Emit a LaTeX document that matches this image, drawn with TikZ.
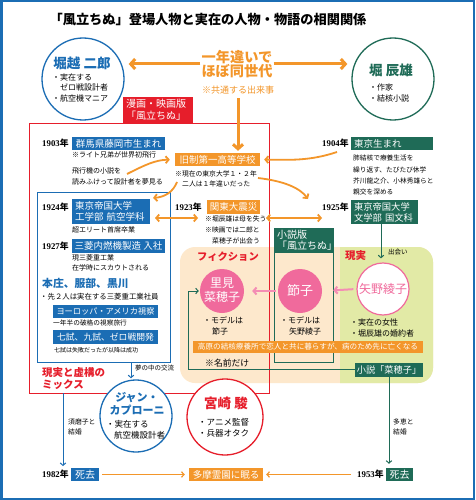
\documentclass[tikz,border=0pt]{standalone}
\usepackage{fontspec}
\newfontfamily\cjk{Noto Sans CJK JP}
\newfontfamily\lserif{Liberation Serif}
\usetikzlibrary{arrows.meta}
\definecolor{jblue}{HTML}{1B6DB4}
\definecolor{jgreen}{HTML}{1F6B57}
\definecolor{jorange}{HTML}{F3962A}
\definecolor{jred}{HTML}{E61E2B}
\definecolor{jpink}{HTML}{F06A9C}
\definecolor{jpinkl}{HTML}{F48DB4}
\definecolor{jpeach}{HTML}{FDE8CC}
\definecolor{jlime}{HTML}{E2EAA6}
\newcommand\fs[1]{\fontsize{#1}{#1}\selectfont}
\newcommand\fsl[2]{\fontsize{#1}{#2}\selectfont}
\newcommand\nen{{\cjk\bfseries 年}}
\begin{document}
\begin{tikzpicture}[x=1pt,y=-1pt,
 txt/.style={anchor=west,inner sep=0pt,font=\cjk\fs{7}},
 yr/.style={anchor=west,inner sep=0pt,font=\lserif\bfseries\fs{8.8}},
 boxb/.style={fill=jblue,text=white,inner sep=0pt,font=\cjk\fs{9.5}},
 boxg/.style={fill=jgreen,text=white,inner sep=0pt,font=\cjk\fs{9.5}},
 boxo/.style={fill=jorange,text=white,inner sep=0pt,font=\cjk\fs{9.5}},
 bigarr/.style={line width=3pt,-{Straight Barb[length=4.5pt,width=10pt]}},
 midarr/.style={line width=1.8pt,-{Straight Barb[length=3pt,width=7pt]}},
 dblarr/.style={line width=1.8pt,{Straight Barb[length=3pt,width=7pt]}-{Straight Barb[length=3pt,width=7pt]}},
 smarr/.style={line width=1pt,-{Straight Barb[length=2.5pt,width=5.5pt]}},
 circ/.style={circle,inner sep=0pt,line width=1.3pt,fill=white},
]
\useasboundingbox (0,0) rectangle (475,500);
\fill[white] (0,0) rectangle (475,500);
\draw[jblue,line width=2.5pt] (1.25,1.25) rectangle (473.75,498.75);

% background regions
\fill[jpeach,rounded corners=15pt] (180,247) rectangle (433,383);
\begin{scope}
\clip (340,240) rectangle (440,390);
\fill[jlime,rounded corners=15pt] (180,247) rectangle (433,383);
\end{scope}
\draw[jgreen,line width=1pt] (274,228) rectangle (333,362);
\node[boxg,text width=53pt,inner xsep=3pt,align=left,minimum height=25pt,font=\cjk\fsl{10}{11}] (shosetsuban) at (303.5,240.5) {小説版\\「風立ちぬ」};

% frames
\draw[jred,line width=1pt] (29,123) rectangle (269,393);
\draw[jblue,line width=1pt] (37,192) rectangle (170,362);

% title
\node[font=\cjk\bfseries\fs{13.2},inner sep=0pt] (title) at (208,20) {「風立ちぬ」登場人物と実在の人物・物語の相関関係};

% top circles
\node[circ,draw=jblue,minimum size=82pt] (jiro) at (83,79) {};
\node[font=\cjk\bfseries\fs{13.5},text=jblue,inner sep=0pt] (jironame) at (82,63) {堀越 二郎};
\node[txt,font=\cjk\fs{8}] (j1) at (52,77) {・実在する};
\node[txt,font=\cjk\fs{8}] (j2) at (60,87.5) {ゼロ戦設計者};
\node[txt,font=\cjk\fs{8}] (j3) at (52,98) {・航空機マニア};

\node[circ,draw=jgreen,minimum size=82pt] (hori) at (393,79) {};
\node[font=\cjk\bfseries\fs{13.5},text=jgreen,inner sep=0pt] (horiname) at (391,70) {堀 辰雄};
\node[txt,font=\cjk\fs{8}] (h1) at (369,87) {・作家};
\node[txt,font=\cjk\fs{8}] (h2) at (369,98) {・結核小説};

% center
\node[font=\cjk\bfseries\fsl{14.2}{14.5},text=jorange,align=center,inner sep=0pt] (gen) at (237,64) {一年違いで\\ほぼ同世代};
\draw[bigarr,jorange,shorten <=1pt,shorten >=4pt] (gen.west) -- (gen.west -| jiro.east);
\draw[bigarr,jorange,shorten <=1pt,shorten >=4pt] (gen.east) -- (gen.east -| hori.west);
\node[font=\cjk\fs{9},text=jorange,inner sep=0pt] (kyotsu) at (238,90) {※共通する出来事};

\node[fill=jred,text=white,font=\cjk\fsl{10}{12},text width=64pt,inner xsep=3pt,align=left,minimum height=26pt,inner ysep=0pt] (manga) at (158,110) {漫画・映画版\\「風立ちぬ」};

% left timeline
\node[yr] (y1903) at (42,143.5) {1903\nen};
\node[boxb,minimum width=93pt,minimum height=13pt] (gunma) at (118.5,143.5) {群馬県藤岡市生まれ};
\node[txt] (n1) at (72,154.5) {※ライト兄弟が世界初飛行};
\node[txt] (n2) at (72,171) {飛行機の小説を};
\node[txt] (n3) at (72,181.5) {読みふけって設計者を夢見る};

\node[boxo,minimum width=85pt,minimum height=13pt] (gakko) at (217.5,159.5) {旧制第一高等学校};
\draw[bigarr,jorange,shorten <=4pt,shorten >=2pt] (kyotsu.south) -- (kyotsu.south |- gakko.north);
\node[txt,font=\cjk\fs{6.8}] (g1) at (175,173.5) {※現在の東京大学１・２年};
\node[txt,font=\cjk\fs{6.8}] (g2) at (182,184) {二人は１年違いだった};

\coordinate (c1s) at (127,174);
\draw[midarr,jorange,shorten >=5pt] (c1s) .. controls (145,165) and (155,160) .. (gakko.west);
\coordinate (c2s) at (177,182);
\coordinate (c2e) at (153,198);
\draw[midarr,jorange] (c2s) .. controls (173,192) and (165,197) .. (c2e);
\coordinate (c3s) at (337,152);
\draw[midarr,jorange,shorten >=4pt] (c3s) .. controls (310,161) and (290,160) .. (gakko.east);
\coordinate (c4s) at (258,178);
\coordinate (c4e) at (308,199);
\draw[midarr,jorange] (c4s) .. controls (284,181) and (300,188) .. (c4e);

\node[yr] (y1924) at (42,207) {1924\nen};
\node[boxb,text width=72pt,inner xsep=3pt,align=left,minimum height=25pt,font=\cjk\fsl{9.5}{11}] (koku) at (111,211.5) {東京帝国大学\\工学部 航空学科};
\node[txt] (k1) at (72,229.5) {超エリート首席卒業};
\node[yr] (y1927) at (42,246) {1927\nen};
\node[boxb,minimum width=93pt,minimum height=14pt] (mitsu) at (118.5,246) {三菱内燃機製造 入社};
\node[txt] (m1) at (72,257.5) {現三菱重工業};
\node[txt] (m2) at (72,268) {在学時にスカウトされる};
\node[txt,font=\cjk\bfseries\fs{10.8},text=jblue] (honjo) at (42,283) {本庄、服部、黒川};
\node[txt,font=\cjk\fs{7.4}] (hj1) at (40,296.5) {・先２人は実在する三菱重工業社員};
\node[boxb,minimum width=105pt,minimum height=13pt,font=\cjk\fs{8.2}] (europe) at (105.5,311.5) {ヨーロッパ・アメリカ視察};
\node[txt,font=\cjk\fs{6.7}] (e1) at (53,322.5) {一年半の破格の視察旅行};
\node[boxb,minimum width=105pt,minimum height=14pt,font=\cjk\fs{8.8}] (zero) at (105.5,337) {七試、九試、ゼロ戦開発};
\node[txt,font=\cjk\fs{6}] (z1) at (54,350) {七試は失敗だったが以降は成功};

\node[yr] (y1923) at (175,207) {1923\nen};
\node[boxo,minimum width=53pt,minimum height=14pt] (shinsai) at (233.5,207) {関東大震災};
\node[txt,font=\cjk\fs{6.8}] (s1) at (205,218.5) {※堀辰雄は母を失う};
\node[txt,font=\cjk\fs{6.8}] (s2) at (205,230) {※映画では二郎と};
\node[txt,font=\cjk\fs{6.8}] (s3) at (212,241) {菜穂子が出会う};
\coordinate (d1a) at (155,218);
\coordinate (d1b) at (198,218);
\coordinate (d2a) at (266,218);
\coordinate (d2b) at (322,218);
\draw[dblarr,jorange] (d1a) -- (d1b);
\draw[dblarr,jorange] (d2a) -- (d2b);

% right timeline
\node[yr] (y1904) at (322,143.5) {1904\nen};
\node[boxg,text width=76pt,inner xsep=3pt,align=left,minimum height=13pt] (tokyo) at (392,143.5) {東京生まれ};
\node[txt,font=\cjk\fs{6.7}] (t1) at (353,158) {肺結核で療養生活を};
\node[txt,font=\cjk\fs{6.7}] (t2) at (353,169.5) {繰り返す、たびたび休学};
\node[txt,font=\cjk\fs{6.7}] (t3) at (353,181) {芥川龍之介、小林秀雄らと};
\node[txt,font=\cjk\fs{6.7}] (t4) at (353,192) {親交を深める};
\node[yr] (y1925) at (322,207) {1925\nen};
\node[boxg,text width=61pt,inner xsep=3pt,align=left,minimum height=24pt,font=\cjk\fsl{9.3}{11}] (bungaku) at (384.5,212) {東京帝国大学\\文学部 国文科};

% fiction / reality
\node[txt,font=\cjk\bfseries\fs{10.3},text=jred] (fiction) at (197,257) {フィクション};
\node[txt,font=\cjk\bfseries\fs{10.5},text=jred] (genjitsu) at (345,256) {現実};
\node[circle,fill=jpink,inner sep=0pt,minimum size=44pt] (satomi) at (222,291) {};
\node[font=\cjk\fsl{12}{14},text=white,align=center,inner sep=0pt] (satomit) at (222,290) {里見\\菜穂子};
\node[circle,fill=jpink,inner sep=0pt,minimum size=44pt,font=\cjk\fs{13},text=white] (setsuko) at (300,291) {節子};
\node[circ,draw=jpink,line width=1.2pt,minimum size=52pt,font=\cjk\fs{12},text=jpink] (yano) at (383,289) {矢野綾子};
\draw[jpinkl,line width=2pt,-{Straight Barb[length=3pt,width=7pt]},shorten <=3pt,shorten >=11pt] (yano.west) -- (setsuko.east);
\draw[jpinkl,line width=2pt,-{Straight Barb[length=3pt,width=7pt]},shorten <=2pt,shorten >=8pt] (setsuko.west) -- (satomi.east);
\coordinate (deai) at (381,224);
\draw[smarr,jgreen,shorten >=4pt] (deai) -- (deai |- yano.north);
\node[txt,font=\cjk\fs{6.5}] (deait) at (388,252) {出会い};

\node[txt,font=\cjk\fs{8}] (sa1) at (203,320) {・モデルは};
\node[txt,font=\cjk\fs{8}] (sa2) at (212,331) {節子};
\node[txt,font=\cjk\fs{8}] (se1) at (280,320) {・モデルは};
\node[txt,font=\cjk\fs{8}] (se2) at (289,331) {矢野綾子};
\node[txt,font=\cjk\fs{8}] (ya1) at (350,322) {・実在の女性};
\node[txt,font=\cjk\fs{8}] (ya2) at (350,333) {・堀辰雄の婚約者};
\node[fill=jorange,text=white,font=\cjk\fs{7.6},minimum width=230pt,minimum height=12pt,inner sep=0pt] (banner) at (308,347) {高原の結核療養所で恋人と共に暮らすが、病のため先に亡くなる};
\node[txt,font=\cjk\fs{8.8}] (namae) at (205,363) {※名前だけ};

\node[boxg,minimum width=68pt,minimum height=14pt,font=\cjk\fs{9.2}] (nahoko) at (389,369.5) {小説「菜穂子」};
\coordinate (gc) at (188,369.5);
\draw[smarr,jgreen,shorten >=1pt] (nahoko.west) -- (gc) |- (satomi.west);

% mix label
\node[txt,font=\cjk\bfseries\fsl{10.5}{12},text=jred,align=left] (mix) at (42,378.5) {現実と虚構の\\ミックス};

% lower circles
\coordinate (bfb) at (131,362);
\node[circ,draw=jblue,minimum size=72pt] (jan) at (136,416) {};
\draw[smarr,jblue,shorten >=1pt] (bfb) -- (bfb |- jan.north);
\node[txt,font=\cjk\fs{6.5}] (yume) at (135,368.5) {夢の中の交流};
\node[font=\cjk\bfseries\fsl{11}{13},text=jblue,align=center,inner sep=0pt] (jant) at (137,403.5) {ジャン・\\カプローニ};
\node[txt,font=\cjk\fs{8.5}] (ja1) at (106,424) {・実在する};
\node[txt,font=\cjk\fs{8.5}] (ja2) at (114,435) {航空機設計者};

\node[circ,draw=jred,minimum size=76pt] (miya) at (225,417) {};
\node[font=\cjk\bfseries\fs{13.5},text=jred,inner sep=0pt] (miyat) at (226,403) {宮崎 駿};
\node[txt,font=\cjk\fs{8.5}] (mi1) at (198,422) {・アニメ監督};
\node[txt,font=\cjk\fs{8.5}] (mi2) at (198,433) {・兵器オタク};

% bottom
\node[yr] (y1982) at (42,474.5) {1982\nen};
\node[boxb,minimum width=28pt,minimum height=13pt,font=\cjk\fs{10}] (shi1) at (85,474.5) {死去};
\node[boxo,minimum width=74pt,minimum height=13pt] (tama) at (226,474.5) {多摩霊園に眠る};
\node[yr] (y1953) at (357,474.5) {1953\nen};
\node[boxg,minimum width=27pt,minimum height=13pt,font=\cjk\fs{10}] (shi2) at (399.5,474.5) {死去};
\draw[smarr,jorange,line width=1.2pt,shorten <=3pt,shorten >=4pt] (shi1.east) -- (tama.west);
\draw[smarr,jorange,line width=1.2pt,shorten <=6pt,shorten >=3pt] (y1953.west) -- (tama.east);

\coordinate (mixb) at (63,393);
\draw[smarr,jblue,shorten >=4pt] (mixb) -- (mixb |- y1982.north);
\node[txt,font=\cjk\fs{6.8}] (su1) at (68,421.5) {須磨子と};
\node[txt,font=\cjk\fs{6.8}] (su2) at (68,432) {結婚};
\draw[smarr,jgreen,shorten >=4pt] (nahoko.south) -- (nahoko.south |- shi2.north);
\node[txt,font=\cjk\fs{6.8}] (ta1) at (393,421.5) {多恵と};
\node[txt,font=\cjk\fs{6.8}] (ta2) at (393,432) {結婚};
\end{tikzpicture}
\end{document}
